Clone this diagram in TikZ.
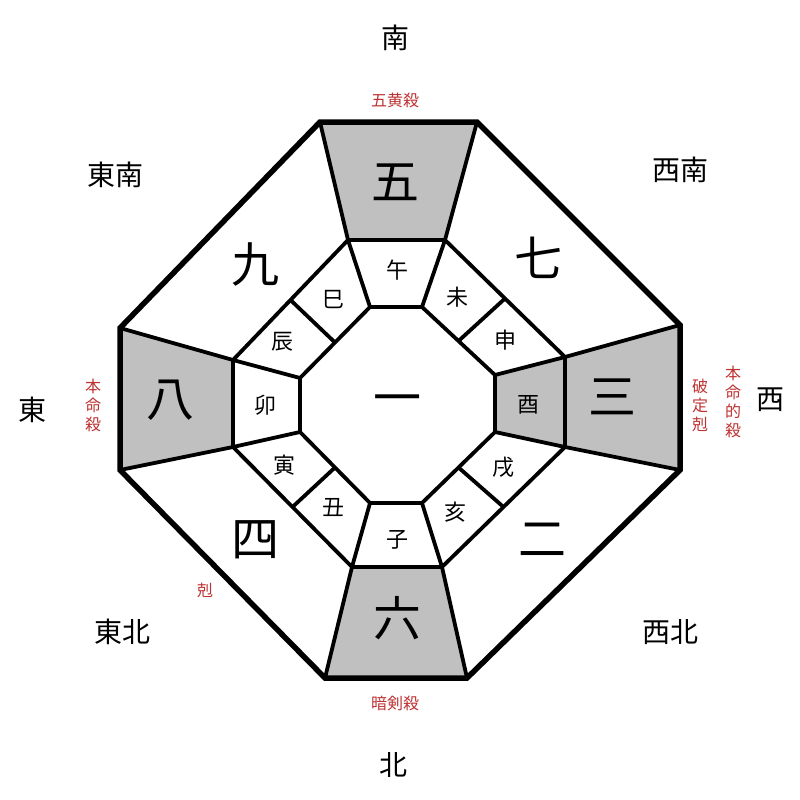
\documentclass[tikz,border=0pt]{standalone}
\usepackage{fontspec}
\newfontfamily\cjk{Noto Sans CJK JP}
\usetikzlibrary{positioning,calc}
\definecolor{kyored}{RGB}{190,50,50}
\definecolor{kyogray}{RGB}{192,192,192}
\tikzset{
  ring/.style={line width=3.8pt, line join=miter},
  star/.style={font=\cjk\fontsize{48}{48}\selectfont, inner sep=0pt},
  shi/.style={font=\cjk\fontsize{22}{22}\selectfont, inner sep=0pt},
  houi/.style={font=\cjk\fontsize{28}{28}\selectfont, inner sep=0pt},
  satsu/.style={font=\cjk\fontsize{16}{19}\selectfont, text=kyored, inner sep=0pt, align=center}
}
\begin{document}
\begin{tikzpicture}[x=1pt,y=-1pt]
\useasboundingbox (0,0) rectangle (800,800);
\fill[white] (0,0) rectangle (800,800);

% outer octagon
\coordinate (o1) at (320,122); \coordinate (o2) at (477,122);
\coordinate (o3) at (680,325); \coordinate (o4) at (680,470);
\coordinate (o5) at (467,678); \coordinate (o6) at (325,678);
\coordinate (o7) at (120,470); \coordinate (o8) at (120,328);
% middle octagon
\coordinate (m1) at (348,240); \coordinate (m2) at (445,240);
\coordinate (m3) at (565,357); \coordinate (m4) at (565,447);
\coordinate (m5) at (442,567); \coordinate (m6) at (352,567);
\coordinate (m7) at (233,447); \coordinate (m8) at (233,360);
% inner octagon
\coordinate (i1) at (370,307); \coordinate (i2) at (422,307);
\coordinate (i3) at (495,375); \coordinate (i4) at (495,432);
\coordinate (i5) at (422,503); \coordinate (i6) at (370,503);
\coordinate (i7) at (300,432); \coordinate (i8) at (300,378);

% shaded cells
\fill[kyogray] (o1) -- (o2) -- (m2) -- (m1) -- cycle;
\fill[kyogray] (o3) -- (o4) -- (m4) -- (m3) -- cycle;
\fill[kyogray] (o5) -- (o6) -- (m6) -- (m5) -- cycle;
\fill[kyogray] (o7) -- (o8) -- (m8) -- (m7) -- cycle;
\fill[kyogray] (m3) -- (m4) -- (i4) -- (i3) -- cycle;

\draw[ring] (m1) -- (m2) -- (m3) -- (m4) -- (m5) -- (m6) -- (m7) -- (m8) -- cycle;
\draw[ring] (i1) -- (i2) -- (i3) -- (i4) -- (i5) -- (i6) -- (i7) -- (i8) -- cycle;
\foreach \k in {1,...,8}
  \draw[ring] (o\k) -- (m\k) (m\k) -- (i\k);
% spokes between branches
\draw[ring] ($(m2)!.5!(m3)$) -- ($(i2)!.5!(i3)$)
            ($(m4)!.5!(m5)$) -- ($(i4)!.5!(i5)$)
            ($(m6)!.5!(m7)$) -- ($(i6)!.5!(i7)$)
            ($(m8)!.5!(m1)$) -- ($(i8)!.5!(i1)$);
\draw[line width=5.5pt, line join=miter] (o1) -- (o2) -- (o3) -- (o4) -- (o5) -- (o6) -- (o7) -- (o8) -- cycle;

% stars
\node[star] (go) at (395,182) {五};
\node[star] (kyu) at (255,265) {九};
\node[star] (nana) at (538,258) {七};
\node[star] (hachi) at (170,400) {八};
\node[star] (ichi) at (397,405) {一};
\node[star] (san) at (612,397) {三};
\node[star] (yon) at (255,540) {四};
\node[star] (ni) at (542,540) {二};
\node[star] (roku) at (397,618) {六};

% branches
\node[shi] (uma) at (397,270) {午};
\node[shi] (hitsuji) at (457,297) {未};
\node[shi] (mi) at (333,300) {巳};
\node[shi] (saru) at (505,340) {申};
\node[shi] (tatsu) at (282,342) {辰};
\node[shi] (u) at (265,405) {卯};
\node[shi] (tori) at (528,405) {酉};
\node[shi] (tora) at (284,465) {寅};
\node[shi] (inu) at (503,467) {戌};
\node[shi] (ushi) at (333,508) {丑};
\node[shi] (i) at (455,512) {亥};
\node[shi] (ne) at (397,540) {子};

% directions
\node[houi] (minami) at (395,38) {南};
\node[houi] (tounan) at (115,175) {東南};
\node[houi] (seinan) at (680,170) {西南};
\node[houi] (higashi) at (32,410) {東};
\node[houi] (nishi) at (770,400) {西};
\node[houi] (touhoku) at (122,632) {東北};
\node[houi] (seihoku) at (670,632) {西北};
\node[houi] (kita) at (393,765) {北};

% red labels
\node[satsu] (gouou) at (395,100) {五黄殺};
\node[satsu] (honmei) at (93,405) {本\\命\\殺};
\node[satsu] (hajou) at (700,405) {破\\定\\剋};
\node[satsu] (honmeiteki) at (733,402) {本\\命\\的\\殺};
\node[satsu] (koku) at (205,590) {剋};
\node[satsu] (anken) at (395,703) {暗剣殺};
\end{tikzpicture}
\end{document}
